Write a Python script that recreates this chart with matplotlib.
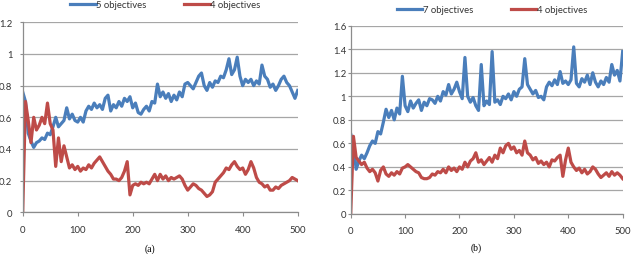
import numpy as np
import matplotlib
matplotlib.use("Agg")
import matplotlib.pyplot as plt

# ---------------- data ----------------
x_vals = np.arange(0, 501, 5)

a_5obj = [0.76, 0.70, 0.50, 0.45, 0.41, 0.44, 0.45, 0.47, 0.46, 0.50,
          0.49, 0.54, 0.60, 0.54, 0.56, 0.58, 0.66, 0.59, 0.62, 0.58,
          0.57, 0.60, 0.57, 0.64, 0.67, 0.65, 0.69, 0.66, 0.68, 0.65,
          0.72, 0.74, 0.64, 0.68, 0.66, 0.70, 0.67, 0.72, 0.70, 0.73,
          0.66, 0.69, 0.63, 0.62, 0.65, 0.67, 0.64, 0.70, 0.69, 0.81,
          0.73, 0.76, 0.72, 0.75, 0.70, 0.74, 0.71, 0.76, 0.73, 0.81,
          0.82, 0.80, 0.78, 0.82, 0.86, 0.88, 0.80, 0.77, 0.82, 0.79,
          0.83, 0.82, 0.86, 0.85, 0.90, 0.97, 0.87, 0.90, 0.98, 0.86,
          0.80, 0.84, 0.82, 0.84, 0.80, 0.83, 0.81, 0.93, 0.86, 0.84,
          0.79, 0.81, 0.77, 0.80, 0.84, 0.86, 0.82, 0.80, 0.76, 0.72,
          0.77]

a_4obj = [0.00, 0.70, 0.58, 0.44, 0.60, 0.52, 0.55, 0.60, 0.56, 0.69,
          0.56, 0.52, 0.29, 0.47, 0.32, 0.42, 0.35, 0.28, 0.30, 0.27,
          0.29, 0.26, 0.28, 0.27, 0.30, 0.28, 0.31, 0.33, 0.35, 0.32,
          0.29, 0.26, 0.24, 0.21, 0.21, 0.20, 0.22, 0.26, 0.32, 0.11,
          0.17, 0.18, 0.17, 0.19, 0.18, 0.19, 0.18, 0.21, 0.24, 0.20,
          0.24, 0.21, 0.23, 0.20, 0.22, 0.21, 0.22, 0.23, 0.21, 0.17,
          0.14, 0.16, 0.18, 0.17, 0.15, 0.14, 0.12, 0.10, 0.11, 0.13,
          0.19, 0.21, 0.23, 0.25, 0.28, 0.27, 0.30, 0.32, 0.29, 0.27,
          0.28, 0.24, 0.27, 0.32, 0.28, 0.22, 0.19, 0.18, 0.16, 0.17,
          0.14, 0.14, 0.16, 0.15, 0.17, 0.18, 0.19, 0.20, 0.22, 0.21,
          0.20]

b_7obj = [0.68, 0.60, 0.38, 0.45, 0.50, 0.47, 0.52, 0.58, 0.62, 0.60,
          0.70, 0.68, 0.78, 0.89, 0.82, 0.88, 0.80, 0.90, 0.85, 1.17,
          0.92, 0.87, 0.96, 0.90, 0.94, 0.97, 0.88, 0.95, 0.92, 0.98,
          0.97, 0.94, 1.00, 0.96, 1.04, 1.01, 1.10, 1.02, 1.06, 1.12,
          1.04, 0.98, 1.33, 1.00, 0.95, 0.99, 0.92, 0.88, 1.27, 0.92,
          0.96, 0.93, 1.38, 0.95, 0.97, 0.93, 1.00, 0.98, 1.02, 0.97,
          1.04, 1.00, 1.06, 1.08, 1.32, 1.10, 1.06, 1.02, 1.05, 0.99,
          1.00, 0.97, 1.08, 1.12, 1.09, 1.14, 1.10, 1.21, 1.11, 1.13,
          1.10, 1.14, 1.42, 1.11, 1.08, 1.15, 1.12, 1.18, 1.10, 1.20,
          1.12, 1.08, 1.13, 1.10, 1.16, 1.12, 1.27, 1.18, 1.22, 1.13,
          1.38]

b_4obj = [0.00, 0.66, 0.48, 0.45, 0.42, 0.44, 0.39, 0.36, 0.38, 0.35,
          0.28, 0.37, 0.40, 0.34, 0.32, 0.35, 0.33, 0.36, 0.34, 0.39,
          0.40, 0.42, 0.40, 0.38, 0.36, 0.35, 0.31, 0.30, 0.30, 0.31,
          0.34, 0.33, 0.36, 0.35, 0.38, 0.35, 0.40, 0.37, 0.39, 0.36,
          0.40, 0.38, 0.44, 0.40, 0.45, 0.47, 0.52, 0.44, 0.46, 0.42,
          0.45, 0.48, 0.44, 0.50, 0.47, 0.56, 0.52, 0.58, 0.60, 0.55,
          0.57, 0.52, 0.54, 0.50, 0.62, 0.52, 0.50, 0.46, 0.48, 0.43,
          0.45, 0.42, 0.44, 0.40, 0.46, 0.45, 0.48, 0.50, 0.32, 0.46,
          0.56, 0.44, 0.40, 0.37, 0.39, 0.35, 0.38, 0.34, 0.36, 0.40,
          0.38, 0.34, 0.31, 0.33, 0.35, 0.32, 0.36, 0.33, 0.35, 0.33,
          0.30]

a_labels = ["5 objectives", "4 objectives"]
b_labels = ["7 objectives", "4 objectives"]
a_yticks = [0, 0.2, 0.4, 0.6, 0.8, 1.0, 1.2]
a_yticklabels = ["0", "0.2", "0.4", "0.6", "0.8", "1", "1.2"]
b_yticks = [0, 0.2, 0.4, 0.6, 0.8, 1.0, 1.2, 1.4, 1.6]
b_yticklabels = ["0", "0.2", "0.4", "0.6", "0.8", "1", "1.2", "1.4", "1.6"]
xticks = [0, 100, 200, 300, 400, 500]
captions = ["(a)", "(b)"]

# ---------------- style ----------------
BLUE = "#4A7EBB"
RED = "#BE4B48"
GRID = "#A6A6A6"
SPINE = "#8C8C8C"
TXT = "#333333"
plt.rcParams['font.family'] = ['Lato', 'DejaVu Sans']

fig = plt.figure(figsize=(6.31, 2.55), dpi=100)
ax1 = fig.add_axes([0.036, 0.1635, 0.4358, 0.745])
ax2 = fig.add_axes([0.5558, 0.1569, 0.431, 0.7384])


def style(ax, yticks, ylabels, ymax, ypad):
    ax.set_xlim(0, 500)
    ax.set_ylim(0, ymax)
    ax.set_xticks(xticks)
    ax.set_xticklabels([str(t) for t in xticks])
    ax.set_yticks(yticks)
    ax.set_yticklabels(ylabels)
    ax.yaxis.grid(True, color=GRID, linewidth=0.9)
    ax.set_axisbelow(True)
    for s in ["top", "right"]:
        ax.spines[s].set_visible(False)
    for s in ["left", "bottom"]:
        ax.spines[s].set_color(SPINE)
        ax.spines[s].set_linewidth(0.9)
    ax.tick_params(axis='x', colors=SPINE, labelcolor=TXT, labelsize=6.8,
                   length=3, width=0.8, pad=6)
    ax.tick_params(axis='y', colors=SPINE, labelcolor=TXT, labelsize=6.8,
                   length=2.5, width=0.8, pad=ypad)


ax1.plot(x_vals, a_5obj, color=BLUE, lw=2.3, label=a_labels[0])
ax1.plot(x_vals, a_4obj, color=RED, lw=2.3, label=a_labels[1])
style(ax1, a_yticks, a_yticklabels, 1.2, 5.0)

ax2.plot(x_vals, b_7obj, color=BLUE, lw=2.3, label=b_labels[0])
ax2.plot(x_vals, b_4obj, color=RED, lw=2.3, label=b_labels[1])
style(ax2, b_yticks, b_yticklabels, 1.6, 0.8)

leg_kw = dict(ncol=2, frameon=False, fontsize=6.8, handlelength=2.7,
              handletextpad=0.05, columnspacing=4.0, borderaxespad=0,
              labelcolor=TXT, loc='center')
ax1.legend(bbox_to_anchor=(165.5 / 631, 1 - 6 / 255),
           bbox_transform=fig.transFigure, **leg_kw)
ax2.legend(bbox_to_anchor=(492 / 631, 1 - 10.7 / 255),
           bbox_transform=fig.transFigure, **leg_kw)

fig.text(150 / 631, 1 - 249 / 255, captions[0], ha='center', va='center',
         fontsize=7, family='Liberation Serif', color='black')
fig.text(476 / 631, 1 - 248 / 255, captions[1], ha='center', va='center',
         fontsize=7, family='Liberation Serif', color='black')

fig.savefig("out.png", dpi=100)
